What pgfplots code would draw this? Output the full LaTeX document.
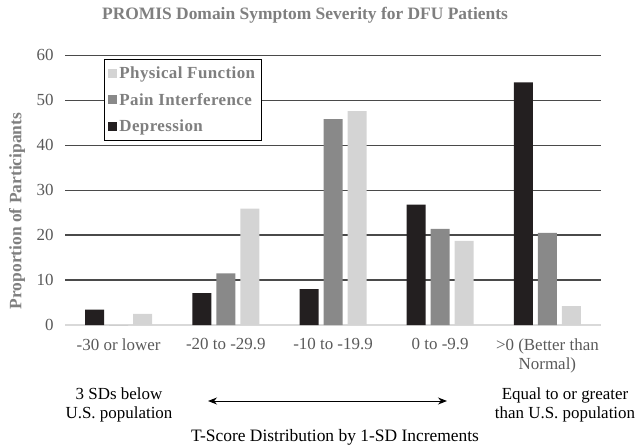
\documentclass[border=0pt]{standalone}
\usepackage{pgfplots}
\pgfplotsset{compat=1.18}
\usepackage{fontspec}
\setmainfont{Liberation Serif}
\usetikzlibrary{arrows.meta}
\definecolor{dep}{HTML}{231F20}
\definecolor{pain}{HTML}{898989}
\definecolor{pf}{HTML}{D4D4D4}
\definecolor{tickgray}{HTML}{595959}
\definecolor{titlegray}{HTML}{7F7F7F}
\definecolor{gridgray}{HTML}{4A4A4A}
\definecolor{basegray}{HTML}{D9D9D9}
\begin{document}
\begin{tikzpicture}
\path[use as bounding box] (-65bp,-121bp) rectangle (577bp,325bp);
\begin{axis}[
  at={(0,0)}, anchor=south west,
  scale only axis, width=536bp, height=269.7bp,
  xmin=-0.5, xmax=4.5, ymin=0, ymax=60,
  ytick={0,10,...,60},
  xtick={0,1,2,3,4},
  xticklabels={-30 or lower,-20 to -29.9,-10 to -19.9,0 to -9.9,{>0 (Better than\\Normal)}},
  xticklabel style={align=center, anchor=north, yshift=-10bp, font=\fontsize{17}{19.5}\selectfont, text=tickgray},
  yticklabel style={font=\fontsize{17}{18}\selectfont, text=tickgray, xshift=-8bp},
  /pgf/number format/assume math mode=true,
  major tick length=0pt,
  axis y line*=left, axis x line*=bottom,
  y axis line style={draw=none},
  x axis line style={draw=basegray, line width=2bp},
  ymajorgrids, grid style={draw=gridgray, line width=1.3bp},
  ybar, bar width=19bp,
  reverse legend=true,
  legend cell align=left,
  legend style={at={(0.0728,0.986)}, anchor=north west, draw=black, line width=0.8bp, fill=white,
    font=\fontsize{17}{18}\selectfont\bfseries\addfontfeature{LetterSpace=2.5}, text=titlegray, row sep=9.5bp, inner xsep=4bp, inner ysep=5bp},
  legend image code/.code={\fill[#1,draw=none] (0bp,-4.5bp) rectangle (9bp,4.5bp);},
]
\addplot[fill=dep, draw=none, bar shift=-24bp] coordinates {(0,3.4) (1,7.1) (2,8.0) (3,26.8) (4,54.0)};
\addplot[fill=pain, draw=none, bar shift=0bp] coordinates {(0,0) (1,11.5) (2,45.8) (3,21.4) (4,20.5)};
\addplot[fill=pf, draw=none, bar shift=24bp] coordinates {(0,2.5) (1,25.9) (2,47.6) (3,18.7) (4,4.2)};
\legend{Depression,Pain Interference,Physical Function}
\end{axis}
\node[font=\fontsize{17.5}{18}\selectfont\bfseries, text=titlegray] at (240bp,310bp) {PROMIS Domain Symptom Severity for DFU Patients};
\node[font=\fontsize{17.5}{18}\selectfont\bfseries, text=titlegray, rotate=90] at (-48bp,114bp) {Proportion of Participants};
\node[font=\fontsize{17}{18.5}\selectfont, align=center] at (54bp,-80bp) {3 SDs below\\U.S. population};
\node[font=\fontsize{17}{18.5}\selectfont, align=center] at (500bp,-80bp) {Equal to or greater\\than U.S. population};
\draw[{Stealth[length=9bp,width=7bp]}-{Stealth[length=9bp,width=7bp]}, line width=1bp] (143bp,-76bp) -- (382bp,-76bp);
\node[font=\fontsize{17.5}{18}\selectfont] at (270bp,-112bp) {T-Score Distribution by 1-SD Increments};
\end{tikzpicture}
\end{document}
